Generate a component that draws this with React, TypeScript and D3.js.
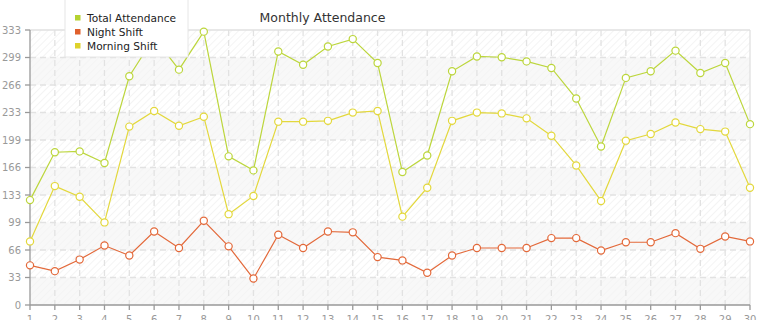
import React from "react";
import * as d3 from "d3";

const days = d3.range(1, 31);
const totalAttendance = [127, 185, 186, 172, 277, 324, 285, 331, 180, 163, 307, 291, 313, 322, 293, 161, 181, 283, 301, 300, 295, 287, 250, 192, 275, 283, 308, 281, 293, 219];
const nightShift = [48, 41, 55, 72, 60, 89, 69, 102, 71, 32, 85, 69, 89, 88, 58, 54, 39, 60, 69, 69, 69, 81, 81, 66, 76, 76, 87, 68, 83, 77];
const morningShift = [77, 144, 131, 100, 216, 235, 217, 228, 110, 132, 222, 222, 223, 233, 235, 107, 142, 223, 233, 232, 226, 205, 169, 126, 199, 207, 221, 213, 210, 142];
const yMax = 333;
const yTickCount = 10;

const series = [
  { name: "Total Attendance", values: totalAttendance, color: "#bcd63c", legend: "#b5d230" },
  { name: "Night Shift", values: nightShift, color: "#e3693a", legend: "#e0602c" },
  { name: "Morning Shift", values: morningShift, color: "#e3d83c", legend: "#ded22b" },
];

const W = 765, H = 320;
const L = 30, R = 750, T = 30, B = 305;
const FONT = "'DejaVu Sans', Verdana, sans-serif";

export default function App() {
  const x = d3.scaleLinear().domain([1, 30]).range([L, R]);
  const y = d3.scaleLinear().domain([0, yMax]).range([B, T]);
  const yTicks = d3.range(0, yTickCount + 1).map((i) => (yMax * i) / yTickCount);
  const line = d3
    .line<number>()
    .x((_, i) => x(days[i]))
    .y((d) => y(d));

  const bands = d3.range(0, yTickCount);

  // draw order: morning, night, total (total on top)
  const drawOrder = [series[2], series[1], series[0]];

  return (
    <svg width={W} height={H} style={{ position: "absolute", left: 0, top: 0, background: "#fff" }}>
      <defs>
        <pattern id="hatch" width="5" height="5" patternUnits="userSpaceOnUse" patternTransform="rotate(45)">
          <line x1="0" y1="0" x2="0" y2="5" stroke="#ececec" strokeWidth="1.2" />
        </pattern>
        <pattern id="hatch2" width="5" height="5" patternUnits="userSpaceOnUse" patternTransform="rotate(45)">
          <line x1="0" y1="0" x2="0" y2="5" stroke="#f1f1f1" strokeWidth="1.2" />
        </pattern>
      </defs>

      {/* plot background bands */}
      {bands.map((i) => {
        const top = y(yTicks[yTickCount - i]);
        const bot = y(yTicks[yTickCount - i - 1]);
        const odd = i % 2 === 1;
        return (
          <g key={"band" + i}>
            <rect x={L} y={top} width={R - L} height={bot - top} fill={odd ? "#f8f8f8" : "#ffffff"} />
            <rect x={L} y={top} width={R - L} height={bot - top} fill={odd ? "url(#hatch2)" : "url(#hatch)"} />
          </g>
        );
      })}

      {/* grid */}
      {yTicks.slice(1, yTickCount).map((t, i) => (
        <line key={"hg" + i} x1={L} x2={R} y1={y(t)} y2={y(t)} stroke="#e2e2e2" strokeWidth={1.3} strokeDasharray="6,4" />
      ))}
      {days.slice(1, days.length - 1).map((d) => (
        <line key={"vg" + d} x1={x(d)} x2={x(d)} y1={T} y2={B} stroke="#e2e2e2" strokeWidth={1.3} strokeDasharray="6,4" />
      ))}
      {/* top & right border */}
      <line x1={L} x2={R} y1={T} y2={T} stroke="#e0e0e0" strokeWidth={1.3} />
      <line x1={R} x2={R} y1={T} y2={B} stroke="#e0e0e0" strokeWidth={1.3} />

      {/* axes */}
      <line x1={L} x2={L} y1={T} y2={B} stroke="#999" strokeWidth={1.3} />
      <line x1={L} x2={R} y1={B} y2={B} stroke="#999" strokeWidth={1.3} />
      {yTicks.map((t, i) => (
        <g key={"yt" + i}>
          <line x1={L - 5} x2={L} y1={y(t)} y2={y(t)} stroke="#999" strokeWidth={1.3} />
          <text x={21} y={y(t)} dy="0.36em" textAnchor="end" fontFamily={FONT} fontSize={10} fill="#999">
            {Math.floor(t)}
          </text>
        </g>
      ))}
      {days.map((d) => (
        <g key={"xt" + d}>
          <line x1={x(d)} x2={x(d)} y1={B} y2={B + 5} stroke="#999" strokeWidth={1.3} />
          <text x={x(d)} y={322.5} textAnchor="middle" fontFamily={FONT} fontSize={10} fill="#999">
            {d}
          </text>
        </g>
      ))}

      {/* series */}
      {drawOrder.map((s) => (
        <g key={s.name}>
          <path d={line(s.values) || ""} fill="none" stroke={s.color} strokeWidth={1.2} />
          {s.values.map((v, i) => (
            <circle key={i} cx={x(days[i])} cy={y(v)} r={3.6} fill="#fff" stroke={s.color} strokeWidth={1.2} />
          ))}
        </g>
      ))}

      {/* title */}
      <text x={322.5} y={21.5} textAnchor="middle" fontFamily={FONT} fontSize={12.5} fill="#333">
        Monthly Attendance
      </text>

      {/* legend */}
      <rect x={65} y={-5} width={123} height={62} fill="#fff" stroke="#e6e6e6" strokeWidth={1} />
      {series.map((s, i) => (
        <g key={"lg" + s.name}>
          <rect x={75} y={15 + i * 14} width={5.5} height={5.5} fill={s.legend} />
          <text x={87} y={22 + i * 14} fontFamily={FONT} fontSize={10.6} fill="#222">
            {s.name}
          </text>
        </g>
      ))}
    </svg>
  );
}
